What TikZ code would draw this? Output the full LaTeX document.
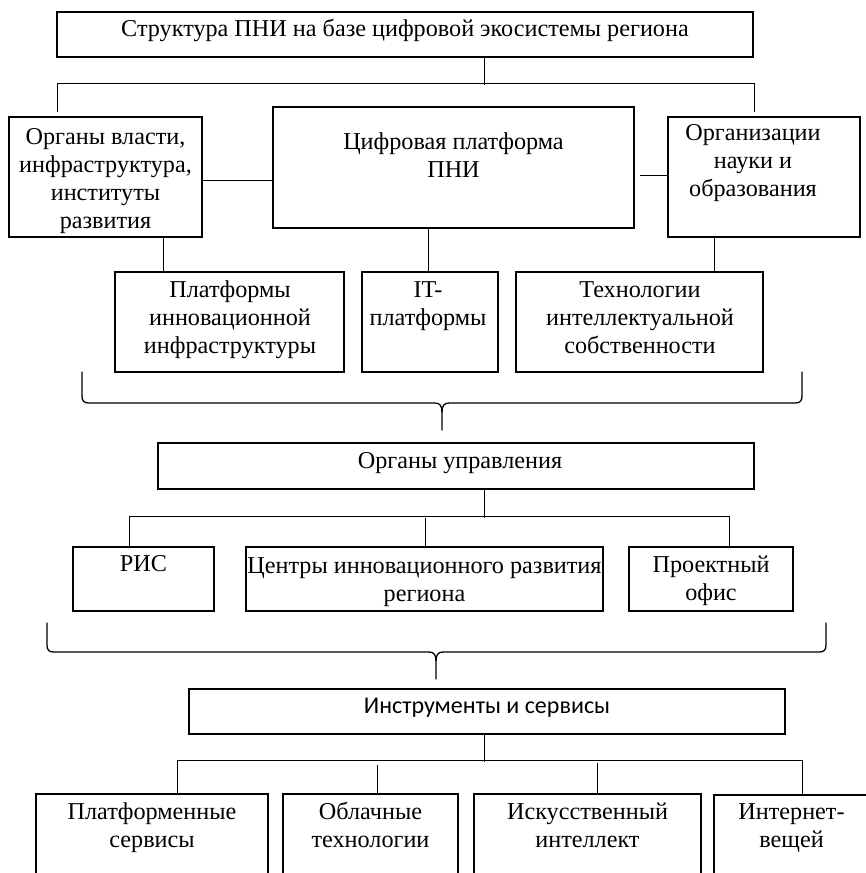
\documentclass[tikz,border=0pt]{standalone}
\usepackage{fontspec}
\setmainfont{Liberation Serif}
\newfontfamily\calib{Carlito}
\newcommand\lnx{\strut}
\begin{document}
\begin{tikzpicture}[x=1pt,y=-1pt,
  box/.style={draw, line width=2pt, inner sep=0pt, outer sep=0pt},
  tbox/.style={draw, line width=1.5pt, inner sep=0pt, outer sep=0pt},
  txt/.style={align=center, inner sep=0pt, yshift=-2pt, font=\fontsize{24.2}{28}\selectfont},
  stxt/.style={align=center, inner sep=0pt, font=\calib\fontsize{24}{28}\selectfont},
  conn/.style={line width=1pt},
  brace/.style={line width=1.3pt, line cap=round}]
\clip (0,0) rectangle (866,873);
% ---------- row 0
\node[tbox, minimum width=696pt, minimum height=45pt] (top) at (405,34.5) {};
\node[txt] (topt) at (405,28.5) {\lnx Структура ПНИ на базе цифровой экосистемы региона};
% ---------- row 1
\node[box, minimum width=193pt, minimum height=120pt] (L) at (105.5,177) {};
\node[txt] (Lt) at (105.5,178.5) {\lnx Органы власти,\\\lnx инфраструктура,\\\lnx институты\\\lnx развития};
\node[box, minimum width=361pt, minimum height=121pt] (C) at (453.5,167.5) {};
\node[txt] (Ct) at (453.5,155.5) {\lnx Цифровая платформа\\\lnx ПНИ};
\node[box, minimum width=192pt, minimum height=120pt] (R) at (764,177) {};
\node[txt] (Rt) at (753,161) {\lnx Организации\\\lnx науки и\\\lnx образования};
% connectors row0-row1
\coordinate (h1M) at (484,83);
\coordinate (h1L) at (57,83);
\coordinate (h1R) at (754,83);
\coordinate (h1Le) at (57,112);
\coordinate (h1Re) at (754,112);
\draw[conn] (top.south -| h1M) -- ([yshift=-2pt]h1M);
\draw[conn] (h1Le) -- (h1L) -- (h1R) -- (h1Re);
\coordinate (lc) at (0,180);
\coordinate (rc) at (0,175);
\draw[conn] (L.east |- lc) -- (C.west |- lc);
\draw[conn] ([xshift=6pt]C.east |- rc) -- (R.west |- rc);
% ---------- row 2
\node[box, minimum width=229pt, minimum height=100pt] (P) at (229.5,322) {};
\node[txt] (Pt) at (230,317.5) {\lnx Платформы\\\lnx инновационной\\\lnx инфраструктуры};
\node[box, minimum width=136pt, minimum height=100pt] (IT) at (430,322) {};
\node[txt] (ITt) at (428,304) {\lnx IT-\\\lnx платформы};
\node[box, minimum width=247pt, minimum height=100pt] (T) at (639.5,322) {};
\node[txt] (Tt) at (640,317.5) {\lnx Технологии\\\lnx интеллектуальной\\\lnx собственности};
\coordinate (v1) at (163,0);
\coordinate (v2) at (428,0);
\coordinate (v3) at (714,0);
\draw[conn] (L.south -| v1) -- (P.north -| v1);
\draw[conn] (C.south -| v2) -- (IT.north -| v2);
\draw[conn] (R.south -| v3) -- (T.north -| v3);
% brace 1
\coordinate (b1L) at (82,372);
\coordinate (b1R) at (802,372);
\coordinate (b1T) at (442,430);
\draw[brace] (b1L) -- (82,396) .. controls (82,401) and (84,403) .. (89,403) -- (435,403)
  .. controls (440,403) and (442,406) .. (442,412) -- (b1T);
\draw[brace] (b1R) -- (802,396) .. controls (802,401) and (800,403) .. (795,403) -- (449,403)
  .. controls (444,403) and (442,406) .. (442,412);
% ---------- row 3
\node[box, minimum width=596pt, minimum height=46pt] (OU) at (456,466) {};
\node[txt] (OUt) at (460,461) {\lnx Органы управления};
\node[box, minimum width=141pt, minimum height=64pt] (RIS) at (143.5,579) {};
\node[txt] (RISt) at (143.5,564) {\lnx РИС};
\node[box, minimum width=357pt, minimum height=64pt] (CE) at (424.5,579) {};
\node[txt] (CEt) at (424.5,579.5) {\lnx Центры инновационного развития\\\lnx региона};
\node[box, minimum width=164pt, minimum height=64pt] (PO) at (711,579) {};
\node[txt] (POt) at (711,578.5) {\lnx Проектный\\\lnx офис};
\coordinate (h3M) at (484,516);
\coordinate (h3L) at (129,516);
\coordinate (h3R) at (729,516);
\coordinate (h3C) at (425,516);
\draw[conn] (OU.south -| h3M) -- ([yshift=-2pt]h3M);
\draw[conn] (RIS.north -| h3L) -- (h3L) -- (h3R) -- (PO.north -| h3R);
\draw[conn] ([yshift=-2pt]h3C) -- (CE.north -| h3C);
% brace 2
\coordinate (b2L) at (47,623);
\coordinate (b2R) at (826,623);
\coordinate (b2T) at (436,679);
\draw[brace] (b2L) -- (47,645) .. controls (47,650) and (49,652) .. (54,652) -- (429,652)
  .. controls (434,652) and (436,655) .. (436,661) -- (b2T);
\draw[brace] (b2R) -- (826,645) .. controls (826,650) and (824,652) .. (819,652) -- (443,652)
  .. controls (438,652) and (436,655) .. (436,661);
% ---------- row 4
\node[box, minimum width=596pt, minimum height=45pt] (IS) at (487,711.5) {};
\node[stxt] (ISt) at (487,707.5) {\lnx Инструменты и сервисы};
\node[box, minimum width=232pt, minimum height=110pt] (B1) at (152,849) {};
\node[txt] (B1t) at (152,826) {\lnx Платформенные\\\lnx сервисы};
\node[box, minimum width=175pt, minimum height=110pt] (B2) at (370.5,849) {};
\node[txt] (B2t) at (370.5,826) {\lnx Облачные\\\lnx технологии};
\node[box, minimum width=227pt, minimum height=110pt] (B3) at (587.5,849) {};
\node[txt] (B3t) at (587.5,826) {\lnx Искусственный\\\lnx интеллект};
\node[box, minimum width=155pt, minimum height=110pt] (B4) at (791.5,850) {};
\node[txt] (B4t) at (791.5,826) {\lnx Интернет-\\\lnx вещей};
\coordinate (h4M) at (484,760);
\coordinate (h4L) at (177,760);
\coordinate (h4R) at (802,760);
\coordinate (h4a) at (377,765);
\coordinate (h4b) at (597,763);
\draw[conn] (IS.south -| h4M) -- ([yshift=-2pt]h4M);
\draw[conn] (B1.north -| h4L) -- (h4L) -- (h4R) -- (B4.north -| h4R);
\draw[conn] (h4a) -- (B2.north -| h4a);
\draw[conn] (h4b) -- (B3.north -| h4b);
\end{tikzpicture}
\end{document}
